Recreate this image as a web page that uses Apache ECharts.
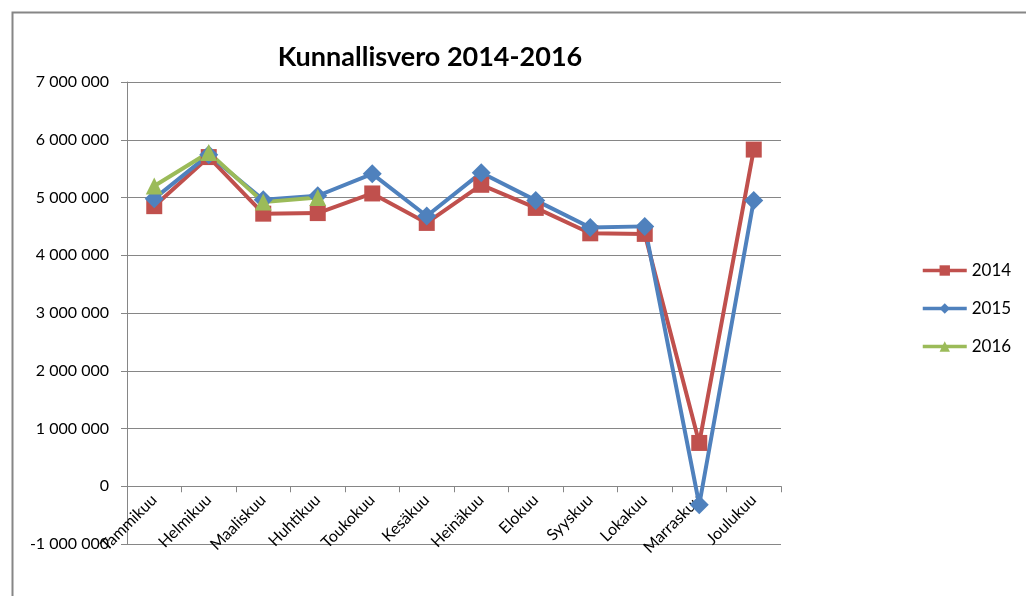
<!DOCTYPE html>
<html>
<head>
<meta charset="utf-8">
<title>Kunnallisvero 2014-2016</title>
<script src="https://cdn.jsdelivr.net/npm/echarts@6/dist/echarts.min.js"></script>
<style>
	html, body { margin: 0; padding: 0; background: #fff; }
	#main { width: 1026px; height: 596px; }
</style>
</head>
<body>
<div id="main"></div>
<script>
var months = ['Tammikuu', 'Helmikuu', 'Maaliskuu', 'Huhtikuu', 'Toukokuu', 'Kesäkuu',
	'Heinäkuu', 'Elokuu', 'Syyskuu', 'Lokakuu', 'Marraskuu', 'Joulukuu'];
var vero2014 = [4850000, 5700000, 4720000, 4730000, 5070000, 4560000, 5220000, 4820000, 4380000, 4370000, 750000, 5830000];
var vero2015 = [4980000, 5740000, 4960000, 5030000, 5410000, 4680000, 5430000, 4950000, 4480000, 4500000, -320000, 4950000];
var vero2016 = [5200000, 5780000, 4920000, 5000000, null, null, null, null, null, null, null, null];
var years = ['2014', '2015', '2016'];

var myChart = echarts.init(document.getElementById('main'));

// välilyönti tuhaterottimena kuten Excelissä
function fmt(v) {
	return String(v).replace(/\B(?=(\d{3})+(?!\d))/g, ' ');
}

function line(name, data, color, symbol, size) {
	return {
		name: name,
		type: 'line',
		data: data,
		symbol: symbol,
		symbolSize: size,
		showSymbol: true,
		lineStyle: { width: 4, color: color },
		itemStyle: { color: color },
		emphasis: { disabled: true }
	};
}

var gridH = 596 - 82 - 52;

var option = {
	animation: false,
	textStyle: { fontFamily: 'Lato, "Open Sans", sans-serif' },
	graphic: [{
		type: 'rect',
		left: 10,
		top: 10,
		shape: { width: 1200, height: 800 },
		style: { fill: 'none', stroke: '#868686', lineWidth: 2 },
		silent: true
	}],
	title: {
		text: 'Kunnallisvero 2014-2016',
		left: 425,
		textAlign: 'center',
		top: 39,
		textStyle: { fontSize: 27, fontWeight: 'bold', color: '#000', fontFamily: 'Lato' }
	},
	legend: {
		data: years,
		orient: 'vertical',
		left: 916,
		top: 257,
		itemWidth: 44,
		itemHeight: 13,
		itemGap: 21,
		lineStyle: { width: 3.5 },
		textStyle: { fontSize: 17, color: '#000' }
	},
	grid: {
		left: 127,
		right: 245,
		top: 82,
		bottom: 52,
		outerBoundsMode: 'none',
		containLabel: false
	},
	xAxis: {
		type: 'category',
		data: months,
		boundaryGap: true,
		// akseli nollan kohdalle nimikkeineen
		offset: -gridH / 8,
		axisLine: { onZero: false, lineStyle: { color: '#868686', width: 1 } },
		axisTick: { show: true, length: 6, alignWithLabel: false, lineStyle: { color: '#868686' } },
		axisLabel: { rotate: 45, fontSize: 16, color: '#000', margin: 11, interval: 0 }
	},
	yAxis: {
		type: 'value',
		min: -1000000,
		max: 7000000,
		interval: 1000000,
		axisLine: { show: true, lineStyle: { color: '#868686', width: 1 } },
		axisTick: { show: true, length: 6, lineStyle: { color: '#868686' } },
		splitLine: { show: true, lineStyle: { color: '#868686', width: 1 } },
		axisLabel: { fontSize: 16, color: '#000', margin: 18, formatter: fmt }
	},
	series: [
		line(years[0], vero2014, '#C0504D', 'rect', 16),
		line(years[1], vero2015, '#4F81BD', 'diamond', 19),
		line(years[2], vero2016, '#9BBB59', 'triangle', 17)
	]
};

myChart.setOption(option, true);
window.onresize = function() {
	myChart.resize();
};
</script>
</body>
</html>
